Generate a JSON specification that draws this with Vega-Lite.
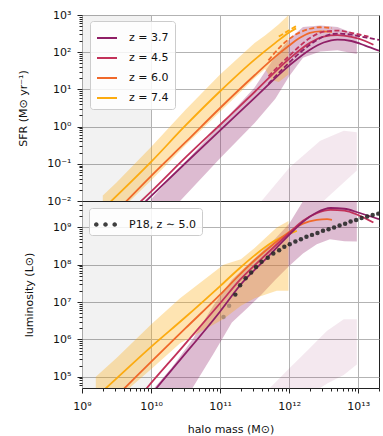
{
  "$schema": "https://vega.github.io/schema/vega-lite/v6.json",
  "background": "white",
  "padding": {"left": 17, "top": 8, "right": 4, "bottom": 0},
  "config": {
    "font": "DejaVu Sans",
    "view": {"stroke": "#222222", "strokeWidth": 1},
    "axis": {"labelFont": "DejaVu Sans", "labelFontSize": 11, "titleFont": "DejaVu Sans", "titleFontSize": 11, "titleFontWeight": "normal", "gridColor": "#b3b3b3", "gridWidth": 1, "tickColor": "#222222", "labelColor": "#111111", "titleColor": "#111111", "domain": false, "labelOverlap": false, "labelFlush": false, "labelBound": false},
    "legend": {"labelFont": "DejaVu Sans", "labelFontSize": 11, "labelColor": "#111111"}
  },
  "datasets": {
    "gray": [{"m0": 1e9, "m1": 1e10}],
    "sfr": [
      {"z": "z = 7.4", "kind": "solid", "m": 2.0e9, "v": 0.00603},
      {"z": "z = 7.4", "kind": "solid", "m": 1e10, "v": 0.1122},
      {"z": "z = 7.4", "kind": "solid", "m": 3.16e10, "v": 1.072},
      {"z": "z = 7.4", "kind": "solid", "m": 1e11, "v": 8.91},
      {"z": "z = 7.4", "kind": "solid", "m": 3.16e11, "v": 63.1},
      {"z": "z = 7.4", "kind": "solid", "m": 6.31e11, "v": 178},
      {"z": "z = 7.4", "kind": "solid", "m": 1e12, "v": 339},
      {"z": "z = 7.4", "kind": "solid", "m": 1.26e12, "v": 437},
      {"z": "z = 7.4", "kind": "dashed", "m": 7.08e11, "v": 263},
      {"z": "z = 7.4", "kind": "dashed", "m": 1e12, "v": 390},
      {"z": "z = 7.4", "kind": "dashed", "m": 1.26e12, "v": 501},
      {"z": "z = 6.0", "kind": "solid", "m": 3.16e9, "v": 0.00525},
      {"z": "z = 6.0", "kind": "solid", "m": 1e10, "v": 0.0468},
      {"z": "z = 6.0", "kind": "solid", "m": 3.16e10, "v": 0.38},
      {"z": "z = 6.0", "kind": "solid", "m": 1e11, "v": 3.16},
      {"z": "z = 6.0", "kind": "solid", "m": 3.16e11, "v": 24.0},
      {"z": "z = 6.0", "kind": "solid", "m": 6.31e11, "v": 75.9},
      {"z": "z = 6.0", "kind": "solid", "m": 1e12, "v": 151},
      {"z": "z = 6.0", "kind": "solid", "m": 1.41e12, "v": 240},
      {"z": "z = 6.0", "kind": "solid", "m": 2.0e12, "v": 331},
      {"z": "z = 6.0", "kind": "solid", "m": 2.82e12, "v": 363},
      {"z": "z = 6.0", "kind": "solid", "m": 4.17e12, "v": 355},
      {"z": "z = 6.0", "kind": "dashed", "m": 5.01e11, "v": 60.3},
      {"z": "z = 6.0", "kind": "dashed", "m": 7.94e11, "v": 158},
      {"z": "z = 6.0", "kind": "dashed", "m": 1.26e12, "v": 302},
      {"z": "z = 6.0", "kind": "dashed", "m": 2.0e12, "v": 427},
      {"z": "z = 6.0", "kind": "dashed", "m": 2.82e12, "v": 468},
      {"z": "z = 6.0", "kind": "dashed", "m": 4.17e12, "v": 447},
      {"z": "z = 4.5", "kind": "solid", "m": 6.31e9, "v": 0.00794},
      {"z": "z = 4.5", "kind": "solid", "m": 1e10, "v": 0.0178},
      {"z": "z = 4.5", "kind": "solid", "m": 3.16e10, "v": 0.148},
      {"z": "z = 4.5", "kind": "solid", "m": 1e11, "v": 1.122},
      {"z": "z = 4.5", "kind": "solid", "m": 3.16e11, "v": 8.51},
      {"z": "z = 4.5", "kind": "solid", "m": 1e12, "v": 66.1},
      {"z": "z = 4.5", "kind": "solid", "m": 2.0e12, "v": 178},
      {"z": "z = 4.5", "kind": "solid", "m": 3.16e12, "v": 263},
      {"z": "z = 4.5", "kind": "solid", "m": 5.01e12, "v": 288},
      {"z": "z = 4.5", "kind": "solid", "m": 7.94e12, "v": 257},
      {"z": "z = 4.5", "kind": "solid", "m": 1.26e13, "v": 200},
      {"z": "z = 4.5", "kind": "solid", "m": 1.66e13, "v": 158},
      {"z": "z = 4.5", "kind": "dashed", "m": 5.01e11, "v": 22.4},
      {"z": "z = 4.5", "kind": "dashed", "m": 1e12, "v": 79.4},
      {"z": "z = 4.5", "kind": "dashed", "m": 2.0e12, "v": 240},
      {"z": "z = 4.5", "kind": "dashed", "m": 3.16e12, "v": 355},
      {"z": "z = 4.5", "kind": "dashed", "m": 5.01e12, "v": 380},
      {"z": "z = 4.5", "kind": "dashed", "m": 7.94e12, "v": 331},
      {"z": "z = 4.5", "kind": "dashed", "m": 1.26e13, "v": 275},
      {"z": "z = 4.5", "kind": "dashed", "m": 1.41e13, "v": 263},
      {"z": "z = 3.7", "kind": "solid", "m": 7.94e9, "v": 0.00891},
      {"z": "z = 3.7", "kind": "solid", "m": 1e10, "v": 0.0135},
      {"z": "z = 3.7", "kind": "solid", "m": 3.16e10, "v": 0.105},
      {"z": "z = 3.7", "kind": "solid", "m": 1e11, "v": 0.794},
      {"z": "z = 3.7", "kind": "solid", "m": 3.16e11, "v": 5.89},
      {"z": "z = 3.7", "kind": "solid", "m": 1e12, "v": 43.7},
      {"z": "z = 3.7", "kind": "solid", "m": 2.0e12, "v": 117},
      {"z": "z = 3.7", "kind": "solid", "m": 3.16e12, "v": 182},
      {"z": "z = 3.7", "kind": "solid", "m": 5.01e12, "v": 219},
      {"z": "z = 3.7", "kind": "solid", "m": 7.94e12, "v": 200},
      {"z": "z = 3.7", "kind": "solid", "m": 1.26e13, "v": 151},
      {"z": "z = 3.7", "kind": "solid", "m": 2.0e13, "v": 110},
      {"z": "z = 3.7", "kind": "dashed", "m": 5.01e11, "v": 14.1},
      {"z": "z = 3.7", "kind": "dashed", "m": 1e12, "v": 52.5},
      {"z": "z = 3.7", "kind": "dashed", "m": 2.0e12, "v": 158},
      {"z": "z = 3.7", "kind": "dashed", "m": 3.16e12, "v": 263},
      {"z": "z = 3.7", "kind": "dashed", "m": 5.01e12, "v": 316},
      {"z": "z = 3.7", "kind": "dashed", "m": 7.94e12, "v": 295},
      {"z": "z = 3.7", "kind": "dashed", "m": 1.26e13, "v": 251},
      {"z": "z = 3.7", "kind": "dashed", "m": 2.0e13, "v": 214}
    ],
    "sfrBand": [
      {"band": "z = 7.4", "m": 2.0e9, "lo": 0.002, "hi": 0.0141},
      {"band": "z = 7.4", "m": 3.16e9, "lo": 0.00447, "hi": 0.0316},
      {"band": "z = 7.4", "m": 1e10, "lo": 0.0355, "hi": 0.282},
      {"band": "z = 7.4", "m": 3.16e10, "lo": 0.316, "hi": 2.82},
      {"band": "z = 7.4", "m": 1e11, "lo": 2.51, "hi": 25.1},
      {"band": "z = 7.4", "m": 3.16e11, "lo": 19.95, "hi": 178},
      {"band": "z = 7.4", "m": 4.47e11, "lo": 35.5, "hi": 282},
      {"band": "z = 7.4", "m": 5.62e11, "lo": 17.8, "hi": 398},
      {"band": "z = 7.4", "m": 7.08e11, "lo": 15.8, "hi": 562},
      {"band": "z = 7.4", "m": 9.77e11, "lo": 25.1, "hi": 1000},
      {"band": "z = 3.7", "m": 1e10, "lo": 0.00141, "hi": 0.0112},
      {"band": "z = 3.7", "m": 2.63e10, "lo": 0.01, "hi": 0.0794},
      {"band": "z = 3.7", "m": 1e11, "lo": 0.141, "hi": 1.122},
      {"band": "z = 3.7", "m": 3.16e11, "lo": 1.259, "hi": 11.2},
      {"band": "z = 3.7", "m": 6.31e11, "lo": 5.62, "hi": 79.4},
      {"band": "z = 3.7", "m": 1e12, "lo": 22.4, "hi": 224},
      {"band": "z = 3.7", "m": 1.585e12, "lo": 70.8, "hi": 479},
      {"band": "z = 3.7", "m": 2.82e12, "lo": 105, "hi": 525},
      {"band": "z = 3.7", "m": 5.01e12, "lo": 112, "hi": 479},
      {"band": "z = 3.7", "m": 9.55e12, "lo": 89.1, "hi": 295},
      {"band": "faint", "m": 3.16e11, "lo": 0.000316, "hi": 0.00631},
      {"band": "faint", "m": 3.98e11, "lo": 0.000501, "hi": 0.01},
      {"band": "faint", "m": 1.02e12, "lo": 0.00158, "hi": 0.0813},
      {"band": "faint", "m": 2.82e12, "lo": 0.00832, "hi": 0.417},
      {"band": "faint", "m": 6.17e12, "lo": 0.0316, "hi": 0.776},
      {"band": "faint", "m": 9.55e12, "lo": 0.0661, "hi": 0.708}
    ],
    "lum": [
      {"z": "z = 7.4", "m": 1.585e9, "v": 2.82e4},
      {"z": "z = 7.4", "m": 2.24e9, "v": 5.01e4},
      {"z": "z = 7.4", "m": 1e10, "v": 6.31e5},
      {"z": "z = 7.4", "m": 3.16e10, "v": 3.98e6},
      {"z": "z = 7.4", "m": 1e11, "v": 2.69e7},
      {"z": "z = 7.4", "m": 1.95e11, "v": 8.32e7},
      {"z": "z = 7.4", "m": 3.16e11, "v": 1.78e8},
      {"z": "z = 7.4", "m": 5.89e11, "v": 4.17e8},
      {"z": "z = 7.4", "m": 1e12, "v": 6.76e8},
      {"z": "z = 7.4", "m": 1.29e12, "v": 8.13e8},
      {"z": "z = 6.0", "m": 3.16e9, "v": 3.02e4},
      {"z": "z = 6.0", "m": 4.17e9, "v": 5.01e4},
      {"z": "z = 6.0", "m": 1e10, "v": 2.51e5},
      {"z": "z = 6.0", "m": 3.16e10, "v": 2.0e6},
      {"z": "z = 6.0", "m": 1e11, "v": 1.585e7},
      {"z": "z = 6.0", "m": 1.95e11, "v": 5.62e7},
      {"z": "z = 6.0", "m": 3.16e11, "v": 1.318e8},
      {"z": "z = 6.0", "m": 5.89e11, "v": 3.55e8},
      {"z": "z = 6.0", "m": 1e12, "v": 7.59e8},
      {"z": "z = 6.0", "m": 1.585e12, "v": 1.26e9},
      {"z": "z = 6.0", "m": 2.51e12, "v": 1.585e9},
      {"z": "z = 6.0", "m": 3.55e12, "v": 1.66e9},
      {"z": "z = 6.0", "m": 4.17e12, "v": 1.585e9},
      {"z": "z = 4.5", "m": 7.08e9, "v": 3.16e4},
      {"z": "z = 4.5", "m": 8.71e9, "v": 5.01e4},
      {"z": "z = 4.5", "m": 2.63e10, "v": 5.25e5},
      {"z": "z = 4.5", "m": 1e11, "v": 9.33e6},
      {"z": "z = 4.5", "m": 1.95e11, "v": 3.98e7},
      {"z": "z = 4.5", "m": 4.79e11, "v": 2.0e8},
      {"z": "z = 4.5", "m": 1e12, "v": 7.08e8},
      {"z": "z = 4.5", "m": 1.585e12, "v": 1.51e9},
      {"z": "z = 4.5", "m": 2.51e12, "v": 2.4e9},
      {"z": "z = 4.5", "m": 3.98e12, "v": 2.95e9},
      {"z": "z = 4.5", "m": 6.31e12, "v": 2.82e9},
      {"z": "z = 4.5", "m": 1e13, "v": 2.14e9},
      {"z": "z = 4.5", "m": 1.66e13, "v": 1.35e9},
      {"z": "z = 3.7", "m": 1e10, "v": 3.31e4},
      {"z": "z = 3.7", "m": 1.2e10, "v": 5.01e4},
      {"z": "z = 3.7", "m": 2.63e10, "v": 2.82e5},
      {"z": "z = 3.7", "m": 1e11, "v": 5.62e6},
      {"z": "z = 3.7", "m": 1.95e11, "v": 2.82e7},
      {"z": "z = 3.7", "m": 4.79e11, "v": 1.55e8},
      {"z": "z = 3.7", "m": 1e12, "v": 6.31e8},
      {"z": "z = 3.7", "m": 1.585e12, "v": 1.41e9},
      {"z": "z = 3.7", "m": 2.51e12, "v": 2.51e9},
      {"z": "z = 3.7", "m": 3.98e12, "v": 3.31e9},
      {"z": "z = 3.7", "m": 6.31e12, "v": 3.16e9},
      {"z": "z = 3.7", "m": 1e13, "v": 2.51e9},
      {"z": "z = 3.7", "m": 2.0e13, "v": 1.66e9}
    ],
    "lumBand": [
      {"band": "z = 7.4", "m": 1.585e9, "lo": 7.94e3, "hi": 1e5},
      {"band": "z = 7.4", "m": 3.16e9, "lo": 2.51e4, "hi": 3.16e5},
      {"band": "z = 7.4", "m": 1e10, "lo": 1.585e5, "hi": 2.51e6},
      {"band": "z = 7.4", "m": 2.63e10, "lo": 7.94e5, "hi": 1.26e7},
      {"band": "z = 7.4", "m": 1.12e11, "lo": 3.55e6, "hi": 1e8},
      {"band": "z = 7.4", "m": 2.0e11, "lo": 7.94e6, "hi": 1.41e8},
      {"band": "z = 7.4", "m": 3.16e11, "lo": 1.26e7, "hi": 2.82e8},
      {"band": "z = 7.4", "m": 6.61e11, "lo": 2.0e7, "hi": 1e9},
      {"band": "z = 7.4", "m": 9.77e11, "lo": 2.0e7, "hi": 1.48e9},
      {"band": "z = 3.7", "m": 1e10, "lo": 1.585e3, "hi": 3.98e4},
      {"band": "z = 3.7", "m": 2.0e10, "lo": 7.94e3, "hi": 1.78e5},
      {"band": "z = 3.7", "m": 3.98e10, "lo": 5.01e4, "hi": 1e6},
      {"band": "z = 3.7", "m": 7.94e10, "lo": 3.98e5, "hi": 7.94e6},
      {"band": "z = 3.7", "m": 1.48e11, "lo": 2.82e6, "hi": 3.98e7},
      {"band": "z = 3.7", "m": 2.51e11, "lo": 7.08e6, "hi": 1e8},
      {"band": "z = 3.7", "m": 3.98e11, "lo": 1.585e7, "hi": 2.24e8},
      {"band": "z = 3.7", "m": 6.31e11, "lo": 3.98e7, "hi": 5.01e8},
      {"band": "z = 3.7", "m": 1e12, "lo": 9.33e7, "hi": 1.26e9},
      {"band": "z = 3.7", "m": 1.585e12, "lo": 2.0e8, "hi": 5.01e9},
      {"band": "z = 3.7", "m": 2.51e12, "lo": 3.55e8, "hi": 1e10},
      {"band": "z = 3.7", "m": 3.89e12, "lo": 4.79e8, "hi": 1e10},
      {"band": "z = 3.7", "m": 6.31e12, "lo": 4.27e8, "hi": 1e10},
      {"band": "z = 3.7", "m": 9.55e12, "lo": 4.17e8, "hi": 1e10},
      {"band": "faint", "m": 3.98e11, "lo": 1e3, "hi": 3.02e4},
      {"band": "faint", "m": 5.25e11, "lo": 1.585e3, "hi": 5.01e4},
      {"band": "faint", "m": 1e12, "lo": 5.75e3, "hi": 1.66e5},
      {"band": "faint", "m": 2.0e12, "lo": 2.09e4, "hi": 5.89e5},
      {"band": "faint", "m": 2.82e12, "lo": 5.01e4, "hi": 1.12e6},
      {"band": "faint", "m": 3.55e12, "lo": 6.61e4, "hi": 1.7e6},
      {"band": "faint", "m": 6.17e12, "lo": 1.12e5, "hi": 3.47e6},
      {"band": "faint", "m": 9.55e12, "lo": 2.14e5, "hi": 3.47e6}
    ],
    "p18": [
      {"src": "P18, z ∼ 5.0", "m": 1.12e11, "v": 3.98e6},
      {"src": "P18, z ∼ 5.0", "m": 1.35e11, "v": 7.94e6},
      {"src": "P18, z ∼ 5.0", "m": 1.66e11, "v": 1.585e7},
      {"src": "P18, z ∼ 5.0", "m": 1.95e11, "v": 2.82e7},
      {"src": "P18, z ∼ 5.0", "m": 2.34e11, "v": 4.37e7},
      {"src": "P18, z ∼ 5.0", "m": 2.82e11, "v": 6.17e7},
      {"src": "P18, z ∼ 5.0", "m": 3.31e11, "v": 8.71e7},
      {"src": "P18, z ∼ 5.0", "m": 3.98e11, "v": 1.2e8},
      {"src": "P18, z ∼ 5.0", "m": 4.9e11, "v": 1.55e8},
      {"src": "P18, z ∼ 5.0", "m": 5.89e11, "v": 2.0e8},
      {"src": "P18, z ∼ 5.0", "m": 7.16e11, "v": 2.45e8},
      {"src": "P18, z ∼ 5.0", "m": 8.51e11, "v": 3.02e8},
      {"src": "P18, z ∼ 5.0", "m": 1.02e12, "v": 3.55e8},
      {"src": "P18, z ∼ 5.0", "m": 1.23e12, "v": 4.17e8},
      {"src": "P18, z ∼ 5.0", "m": 1.48e12, "v": 4.79e8},
      {"src": "P18, z ∼ 5.0", "m": 1.78e12, "v": 5.62e8},
      {"src": "P18, z ∼ 5.0", "m": 2.14e12, "v": 6.31e8},
      {"src": "P18, z ∼ 5.0", "m": 2.57e12, "v": 7.08e8},
      {"src": "P18, z ∼ 5.0", "m": 3.09e12, "v": 8.13e8},
      {"src": "P18, z ∼ 5.0", "m": 3.72e12, "v": 8.91e8},
      {"src": "P18, z ∼ 5.0", "m": 4.47e12, "v": 1.0e9},
      {"src": "P18, z ∼ 5.0", "m": 5.37e12, "v": 1.12e9},
      {"src": "P18, z ∼ 5.0", "m": 6.46e12, "v": 1.26e9},
      {"src": "P18, z ∼ 5.0", "m": 7.76e12, "v": 1.45e9},
      {"src": "P18, z ∼ 5.0", "m": 9.33e12, "v": 1.585e9},
      {"src": "P18, z ∼ 5.0", "m": 1.12e13, "v": 1.78e9},
      {"src": "P18, z ∼ 5.0", "m": 1.35e13, "v": 1.95e9},
      {"src": "P18, z ∼ 5.0", "m": 1.62e13, "v": 2.14e9},
      {"src": "P18, z ∼ 5.0", "m": 1.95e13, "v": 2.34e9}
    ]
  },
  "spacing": 0,
  "bounds": "flush",
  "resolve": {"scale": {"color": "independent", "fill": "independent", "x": "independent", "y": "independent"}, "legend": {"color": "independent", "fill": "independent"}},
  "vconcat": [
    {
      "width": 297,
      "height": 186,
      "layer": [
        {
          "data": {"name": "gray"},
          "mark": {"type": "rect", "fill": "#000000", "opacity": 0.05},
          "encoding": {
            "x": {"field": "m0", "type": "quantitative", "scale": {"type": "log", "domain": [1e9, 2e13], "nice": false}, "axis": {"values": [1e9, 1e10, 1e11, 1e12, 1e13], "labels": false, "ticks": false, "title": null, "grid": true, "minExtent": 0, "maxExtent": 0, "offset": 0}},
            "x2": {"field": "m1"}
          }
        },
        {
          "data": {"name": "sfrBand"},
          "transform": [{"filter": "datum.band == 'faint'"}],
          "mark": {"type": "area", "color": "#8f1f66", "opacity": 0.1, "clip": true},
          "encoding": {
            "x": {"field": "m", "type": "quantitative", "scale": {"type": "log", "domain": [1e9, 2e13], "nice": false}},
            "y": {"field": "lo", "type": "quantitative", "scale": {"type": "log", "domain": [0.01, 1000], "nice": false}, "axis": {"title": "SFR (M⊙ yr⁻¹)", "titlePadding": 18, "labelPadding": 6, "values": [0.01, 0.02, 0.03, 0.04, 0.05, 0.06, 0.07, 0.08, 0.09, 0.1, 0.2, 0.3, 0.4, 0.5, 0.6, 0.7, 0.8, 0.9, 1, 2, 3, 4, 5, 6, 7, 8, 9, 10, 20, 30, 40, 50, 60, 70, 80, 90, 100, 200, 300, 400, 500, 600, 700, 800, 900, 1000], "labelExpr": "abs(log(datum.value)/LN10 - round(log(datum.value)/LN10)) < 0.001 ? '10' + ['⁻²','⁻¹','⁰','¹','²','³','⁴','⁵','⁶','⁷','⁸','⁹','¹⁰','¹¹','¹²','¹³'][round(log(datum.value)/LN10) + 2] : ''", "tickSize": {"condition": {"test": "abs(log(datum.value)/LN10 - round(log(datum.value)/LN10)) < 0.001", "value": 5}, "value": 3}, "gridOpacity": {"condition": {"test": "abs(log(datum.value)/LN10 - round(log(datum.value)/LN10)) < 0.001", "value": 1}, "value": 0}}},
            "y2": {"field": "hi"}
          }
        },
        {
          "data": {"name": "sfrBand"},
          "transform": [{"filter": "datum.band == 'z = 3.7'"}],
          "mark": {"type": "area", "color": "#8f1f66", "opacity": 0.3, "clip": true},
          "encoding": {
            "x": {"field": "m", "type": "quantitative"},
            "y": {"field": "lo", "type": "quantitative"},
            "y2": {"field": "hi"}
          }
        },
        {
          "data": {"name": "sfrBand"},
          "transform": [{"filter": "datum.band == 'z = 7.4'"}],
          "mark": {"type": "area", "color": "#fcab10", "opacity": 0.32, "clip": true},
          "encoding": {
            "x": {"field": "m", "type": "quantitative"},
            "y": {"field": "lo", "type": "quantitative"},
            "y2": {"field": "hi"}
          }
        },
        {
          "data": {"name": "sfr"},
          "transform": [{"filter": "datum.kind == 'solid'"}],
          "mark": {"type": "line", "strokeWidth": 1.8, "interpolate": "monotone", "clip": true},
          "encoding": {
            "x": {"field": "m", "type": "quantitative"},
            "y": {"field": "v", "type": "quantitative"},
            "color": {"field": "z", "type": "nominal", "scale": {"domain": ["z = 3.7", "z = 4.5", "z = 6.0", "z = 7.4"], "range": ["#8f1f66", "#c3325a", "#f0692a", "#fcab10"]}, "legend": {"title": null, "orient": "none", "legendX": 8, "legendY": 6, "symbolType": "stroke", "symbolSize": 400, "symbolStrokeWidth": 2, "padding": 6, "rowPadding": 4, "labelOffset": 11, "fillColor": "rgba(255,255,255,0.85)", "strokeColor": "#cccccc", "cornerRadius": 3}}
          }
        },
        {
          "data": {"name": "sfr"},
          "transform": [{"filter": "datum.kind == 'dashed'"}],
          "mark": {"type": "line", "strokeWidth": 1.8, "strokeDash": [5, 2.5], "interpolate": "monotone", "clip": true},
          "encoding": {
            "x": {"field": "m", "type": "quantitative"},
            "y": {"field": "v", "type": "quantitative"},
            "color": {"field": "z", "type": "nominal"}
          }
        }
      ]
    },
    {
      "width": 297,
      "height": 187,
      "layer": [
        {
          "data": {"name": "gray"},
          "mark": {"type": "rect", "fill": "#000000", "opacity": 0.05},
          "encoding": {
            "x": {"field": "m0", "type": "quantitative", "scale": {"type": "log", "domain": [1e9, 2e13], "nice": false}, "axis": {"title": "halo mass (M⊙)", "titlePadding": 12, "labelPadding": 7, "values": [1e9, 2e9, 3e9, 4e9, 5e9, 6e9, 7e9, 8e9, 9e9, 1e10, 2e10, 3e10, 4e10, 5e10, 6e10, 7e10, 8e10, 9e10, 1e11, 2e11, 3e11, 4e11, 5e11, 6e11, 7e11, 8e11, 9e11, 1e12, 2e12, 3e12, 4e12, 5e12, 6e12, 7e12, 8e12, 9e12, 1e13, 2e13], "labelExpr": "abs(log(datum.value)/LN10 - round(log(datum.value)/LN10)) < 0.001 ? '10' + ['⁻²','⁻¹','⁰','¹','²','³','⁴','⁵','⁶','⁷','⁸','⁹','¹⁰','¹¹','¹²','¹³'][round(log(datum.value)/LN10) + 2] : ''", "tickSize": {"condition": {"test": "abs(log(datum.value)/LN10 - round(log(datum.value)/LN10)) < 0.001", "value": 5}, "value": 3}, "gridOpacity": {"condition": {"test": "abs(log(datum.value)/LN10 - round(log(datum.value)/LN10)) < 0.001", "value": 1}, "value": 0}}},
            "x2": {"field": "m1"}
          }
        },
        {
          "data": {"name": "lumBand"},
          "transform": [{"filter": "datum.band == 'faint'"}],
          "mark": {"type": "area", "color": "#8f1f66", "opacity": 0.1, "clip": true},
          "encoding": {
            "x": {"field": "m", "type": "quantitative", "scale": {"type": "log", "domain": [1e9, 2e13], "nice": false}},
            "y": {"field": "lo", "type": "quantitative", "scale": {"type": "log", "domain": [5e4, 5.1e9], "nice": false}, "axis": {"title": "luminosity (L⊙)", "titlePadding": 18, "labelPadding": 6, "values": [6e4, 7e4, 8e4, 9e4, 1e5, 2e5, 3e5, 4e5, 5e5, 6e5, 7e5, 8e5, 9e5, 1e6, 2e6, 3e6, 4e6, 5e6, 6e6, 7e6, 8e6, 9e6, 1e7, 2e7, 3e7, 4e7, 5e7, 6e7, 7e7, 8e7, 9e7, 1e8, 2e8, 3e8, 4e8, 5e8, 6e8, 7e8, 8e8, 9e8, 1e9, 2e9, 3e9, 4e9, 5e9], "labelExpr": "abs(log(datum.value)/LN10 - round(log(datum.value)/LN10)) < 0.001 ? '10' + ['⁻²','⁻¹','⁰','¹','²','³','⁴','⁵','⁶','⁷','⁸','⁹','¹⁰','¹¹','¹²','¹³'][round(log(datum.value)/LN10) + 2] : ''", "tickSize": {"condition": {"test": "abs(log(datum.value)/LN10 - round(log(datum.value)/LN10)) < 0.001", "value": 5}, "value": 3}, "gridOpacity": {"condition": {"test": "abs(log(datum.value)/LN10 - round(log(datum.value)/LN10)) < 0.001", "value": 1}, "value": 0}}},
            "y2": {"field": "hi"}
          }
        },
        {
          "data": {"name": "lumBand"},
          "transform": [{"filter": "datum.band == 'z = 3.7'"}],
          "mark": {"type": "area", "color": "#8f1f66", "opacity": 0.3, "clip": true},
          "encoding": {
            "x": {"field": "m", "type": "quantitative"},
            "y": {"field": "lo", "type": "quantitative"},
            "y2": {"field": "hi"}
          }
        },
        {
          "data": {"name": "lumBand"},
          "transform": [{"filter": "datum.band == 'z = 7.4'"}],
          "mark": {"type": "area", "color": "#fcab10", "opacity": 0.32, "clip": true},
          "encoding": {
            "x": {"field": "m", "type": "quantitative"},
            "y": {"field": "lo", "type": "quantitative"},
            "y2": {"field": "hi"}
          }
        },
        {
          "data": {"name": "lum"},
          "mark": {"type": "line", "strokeWidth": 1.8, "interpolate": "monotone", "clip": true},
          "encoding": {
            "x": {"field": "m", "type": "quantitative"},
            "y": {"field": "v", "type": "quantitative"},
            "color": {"field": "z", "type": "nominal", "scale": {"domain": ["z = 3.7", "z = 4.5", "z = 6.0", "z = 7.4"], "range": ["#8f1f66", "#c3325a", "#f0692a", "#fcab10"]}, "legend": null}
          }
        },
        {
          "data": {"name": "p18"},
          "transform": [{"filter": "datum.m < 1.5e11"}],
          "mark": {"type": "point", "filled": true, "size": 20, "opacity": 0.3, "color": "#2a2a2a", "clip": true},
          "encoding": {
            "x": {"field": "m", "type": "quantitative"},
            "y": {"field": "v", "type": "quantitative"}
          }
        },
        {
          "data": {"name": "p18"},
          "transform": [{"filter": "datum.m > 1.5e11"}],
          "mark": {"type": "point", "filled": true, "size": 20, "opacity": 0.9, "clip": true},
          "encoding": {
            "x": {"field": "m", "type": "quantitative"},
            "y": {"field": "v", "type": "quantitative"},
            "fill": {"field": "src", "type": "nominal", "scale": {"domain": ["P18, z ∼ 5.0"], "range": ["#2a2a2a"]}, "legend": {"title": null, "orient": "none", "legendX": 7, "legendY": 7, "symbolType": "M -1 0 A 0.2 0.2 0 1 0 -0.6 0 A 0.2 0.2 0 1 0 -1 0 Z M -0.2 0 A 0.2 0.2 0 1 0 0.2 0 A 0.2 0.2 0 1 0 -0.2 0 Z M 0.6 0 A 0.2 0.2 0 1 0 1 0 A 0.2 0.2 0 1 0 0.6 0 Z", "symbolSize": 529, "symbolStrokeWidth": 0, "padding": 5, "labelOffset": 12, "fillColor": "rgba(255,255,255,0.85)", "strokeColor": "#cccccc", "cornerRadius": 3}}
          }
        }
      ]
    }
  ]
}
